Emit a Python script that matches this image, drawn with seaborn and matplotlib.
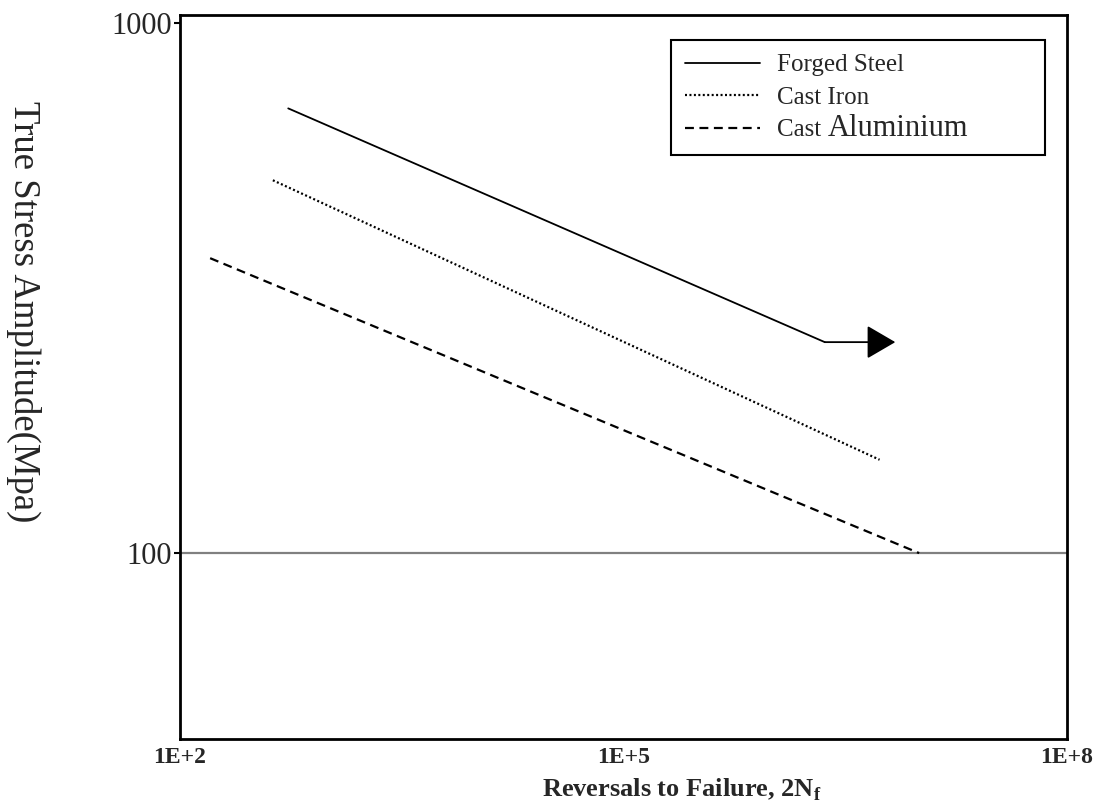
import numpy as np
import pandas as pd
import matplotlib
matplotlib.use("Agg")
import matplotlib.pyplot as plt
import seaborn as sns

# data (log-log S-N lines)
forged_x = [540, 2.3e6]
forged_y = [690, 250]
forged_arrow_end = 6.9e6

iron_x = [425, 5.4e6]
iron_y = [505, 150]

alu_x = [160, 1.0e7]
alu_y = [360, 100]

x_ticks = [1e2, 1e5, 1e8]
x_tick_labels = ["1E+2", "1E+5", "1E+8"]
y_ticks = [100, 1000]
y_tick_labels = ["100", "1000"]

sns.set_style("white")
plt.rcParams['font.family'] = ['Liberation Serif', 'DejaVu Serif']
plt.rcParams['mathtext.fontset'] = 'custom'
plt.rcParams['mathtext.rm'] = 'Liberation Serif'
plt.rcParams['mathtext.bf'] = 'Liberation Serif:bold'

fig = plt.figure(figsize=(10.96, 8.08), dpi=100)
ax = fig.add_axes([0.1642, 0.0854, 0.8093, 0.896])

sns.lineplot(x=forged_x, y=forged_y, ax=ax, color='black', lw=1.3,
             linestyle='-', label='Forged Steel')
sns.lineplot(x=iron_x, y=iron_y, ax=ax, color='black', lw=1.6,
             linestyle=(0, (0.9, 1.1)), label='Cast Iron')
sns.lineplot(x=alu_x, y=alu_y, ax=ax, color='black', lw=1.6,
             linestyle=(0, (4, 2.5)), label='Cast')

# endurance limit arrow
ax.annotate('', xy=(forged_arrow_end, forged_y[-1]), xytext=(forged_x[-1], forged_y[-1]),
            arrowprops=dict(arrowstyle='-|>,head_length=0.6,head_width=0.35',
                            mutation_scale=30, color='black', lw=1.3,
                            shrinkA=0, shrinkB=0))

ax.axhline(100, color='#808080', lw=1.6, zorder=1)

ax.set_xscale('log')
ax.set_yscale('log')
ax.set_xlim(1e2, 1e8)
ax.set_ylim(44.6, 1035)

ax.set_xticks(x_ticks)
ax.set_xticklabels(x_tick_labels, fontsize=17, fontweight='bold')
ax.set_yticks(y_ticks)
ax.set_yticklabels(y_tick_labels, fontsize=22)
ax.minorticks_off()
ax.tick_params(axis='x', length=0, pad=6)
ax.tick_params(axis='y', length=4.5, width=1.5, pad=1.5, color='black', direction='out', left=True)

for s in ax.spines.values():
    s.set_color('black')
    s.set_linewidth(2)

ax.set_xlabel(r'Reversals to Failure, 2N$_{\mathbf{f}}$', fontsize=19, fontweight='bold')
ax.xaxis.set_label_coords(0.566, -0.052)
ax.set_ylabel('True Stress Amplitude(Mpa)', fontsize=26.5, rotation=270, va='center')
ax.yaxis.set_label_coords(-0.176, 0.590)

leg = ax.legend(loc='upper left', bbox_to_anchor=(0.5535, 0.8066, 0.4216, 0.1589),
                mode='expand', fontsize=18, frameon=True, fancybox=False,
                framealpha=1, edgecolor='black', borderpad=0.55, labelspacing=0.4,
                handlelength=3.0, handletextpad=0.7, borderaxespad=0)
leg.get_frame().set_linewidth(1.5)

# larger word after "Cast" like the original
ax.annotate('Aluminium', xy=(1, 0), xycoords=leg.get_texts()[2],
            xytext=(5, 3.9), textcoords='offset points', fontsize=22,
            va='baseline', ha='left', zorder=10)

fig.savefig('out.png', dpi=100)
